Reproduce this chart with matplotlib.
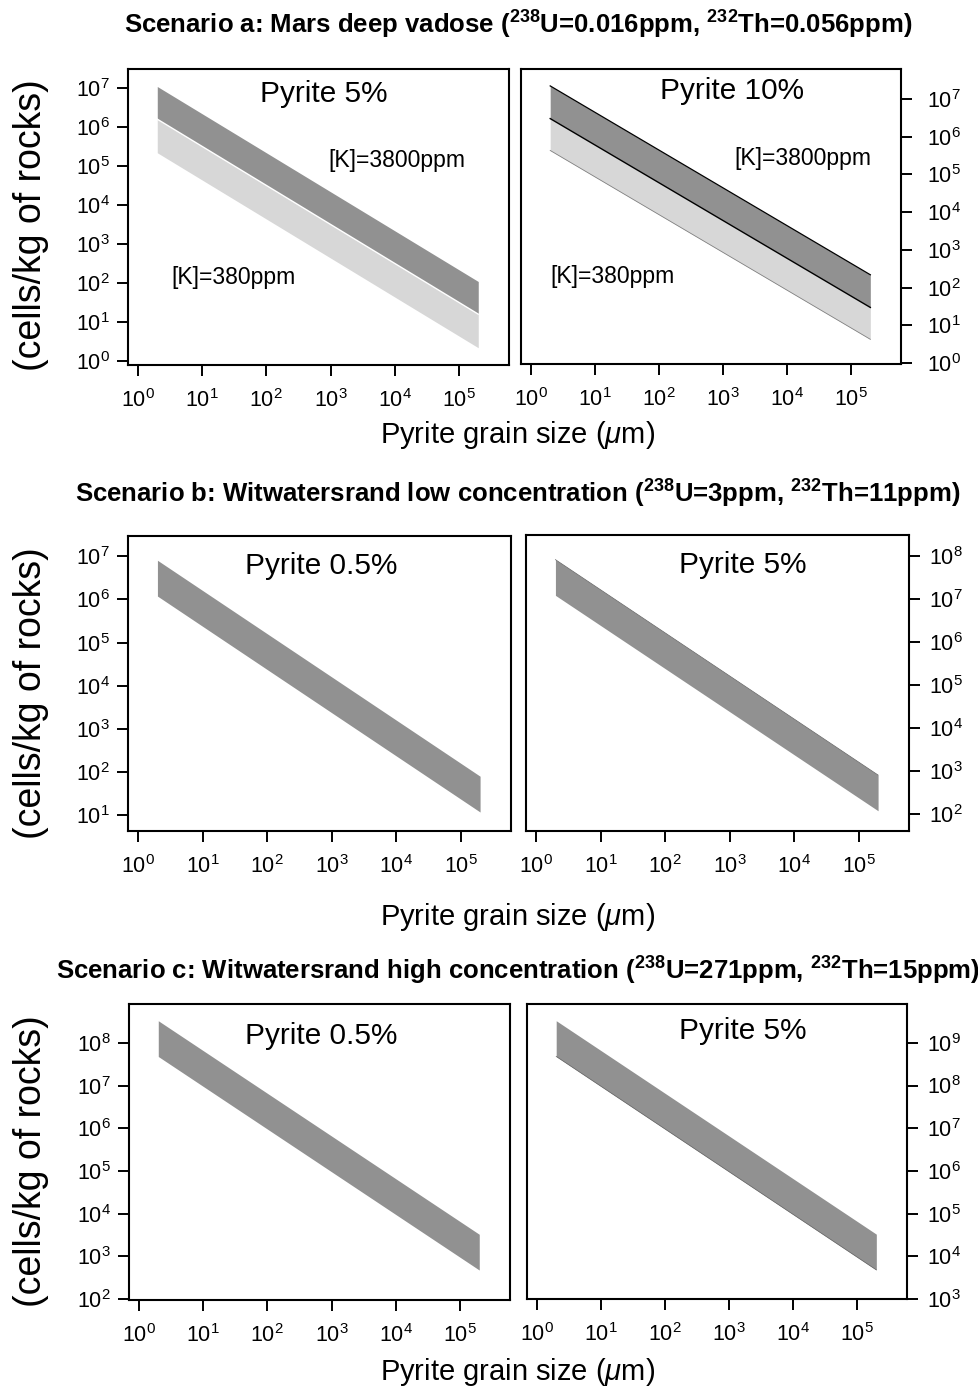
import matplotlib
matplotlib.use('Agg')
import matplotlib.pyplot as plt
from matplotlib.ticker import FixedLocator, LogFormatterMathtext, NullLocator

plt.rcParams['font.family'] = ['Liberation Sans', 'DejaVu Sans']
plt.rcParams['mathtext.fontset'] = 'custom'
plt.rcParams['mathtext.rm'] = 'Liberation Sans'
plt.rcParams['mathtext.it'] = 'Liberation Sans:italic'
plt.rcParams['mathtext.bf'] = 'Liberation Sans:bold'

W, H = 979, 1386
fig = plt.figure(figsize=(W / 100, H / 100), dpi=100)

# ---------------- data ----------------
grain_size = [2, 2e5]  # µm

# Scenario a: Mars deep vadose
a5_k3800_upper = [1.1e7, 1.1e2]
a5_k3800_lower = [1.6e6, 1.6e1]
a5_k380_lower = [2.2e5, 2.2]
a10_k3800_upper = [2.2e7, 2.2e2]
a10_k3800_lower = [3.0e6, 3.0e1]
a10_k380_lower = [4.3e5, 4.3]

# Scenario b: Witwatersrand low concentration
b05_upper = [8.1e6, 8.1e1]
b05_lower = [1.2e6, 1.2e1]
b5_upper = [8.1e7, 8.1e2]
b5_lower = [1.2e7, 1.2e2]

# Scenario c: Witwatersrand high concentration
c05_upper = [3.3e8, 3.3e3]
c05_lower = [4.8e7, 4.8e2]
c5_upper = [3.3e9, 3.3e4]
c5_lower = [4.8e8, 4.8e3]

x_ticks = [1, 10, 100, 1e3, 1e4, 1e5]

titles = [
    r'Scenario a: Mars deep vadose ($^{\mathbf{238}}$U=0.016ppm, $^{\mathbf{232}}$Th=0.056ppm)',
    r'Scenario b: Witwatersrand low concentration ($^{\mathbf{238}}$U=3ppm, $^{\mathbf{232}}$Th=11ppm)',
    r'Scenario c: Witwatersrand high concentration ($^{\mathbf{238}}$U=271ppm, $^{\mathbf{232}}$Th=15ppm)',
]
panel_labels = ['Pyrite 5%', 'Pyrite 10%', 'Pyrite 0.5%', 'Pyrite 5%', 'Pyrite 0.5%', 'Pyrite 5%']
k_labels = ['[K]=3800ppm', '[K]=380ppm']
xlabel = r'Pyrite grain size ($\mu$m)'
ylabel = '(cells/kg of rocks)'

DARK = '#919191'
LIGHT = '#d7d7d7'


def fx(px):
    return px / W


def fy(py):
    return 1 - py / H


def make_ax(l, t, r, b, xlim, ylim, yticks, right=False, ypad=5):
    ax = fig.add_axes([fx(l), fy(b), (r - l) / W, (b - t) / H])
    ax.set_xscale('log')
    ax.set_yscale('log')
    ax.set_xlim(*xlim)
    ax.set_ylim(*ylim)
    ax.xaxis.set_major_locator(FixedLocator(x_ticks))
    ax.xaxis.set_minor_locator(NullLocator())
    ax.yaxis.set_major_locator(FixedLocator(yticks))
    ax.yaxis.set_minor_locator(NullLocator())
    ax.xaxis.set_major_formatter(LogFormatterMathtext())
    ax.yaxis.set_major_formatter(LogFormatterMathtext())
    for s in ax.spines.values():
        s.set_linewidth(1.5)
    ax.tick_params(axis='both', which='major', direction='out', length=8,
                   width=1.4, labelsize=15.5, colors='black')
    ax.tick_params(axis='x', pad=9)
    ax.tick_params(axis='y', pad=ypad)
    if right:
        ax.yaxis.tick_right()
    return ax


xl = (10 ** -0.155, 10 ** 5.78)

# --- Row a ---
ax = make_ax(128, 69, 509, 365, xl, (10 ** -0.10, 10 ** 7.49), [10 ** k for k in range(0, 8)])
ax.fill_between(grain_size, a5_k3800_lower, a5_k3800_upper, color=DARK, lw=0)
ax.fill_between(grain_size, a5_k380_lower, a5_k3800_lower, color=LIGHT, lw=0)
ax.plot(grain_size, a5_k3800_lower, color='white', lw=1.0)

ax = make_ax(521, 69, 901, 364, xl, (10 ** -0.02, 10 ** 7.79), [10 ** k for k in range(0, 8)],
             right=True, ypad=11)
ax.fill_between(grain_size, a10_k3800_lower, a10_k3800_upper, color=DARK, lw=0)
ax.fill_between(grain_size, a10_k380_lower, a10_k3800_lower, color=LIGHT, lw=0)
ax.plot(grain_size, a10_k3800_upper, color='black', lw=0.9)
ax.plot(grain_size, a10_k3800_lower, color='black', lw=1.0)
ax.plot(grain_size, a10_k380_lower, color='#808080', lw=0.6)

# --- Row b ---
ax = make_ax(128, 536, 511, 831, xl, (10 ** 0.64, 10 ** 7.47), [10 ** k for k in range(1, 8)])
ax.fill_between(grain_size, b05_lower, b05_upper, color=DARK, lw=0)

ax = make_ax(526, 535, 909, 831, xl, (10 ** 1.61, 10 ** 8.48), [10 ** k for k in range(2, 9)],
             right=True, ypad=6.5)
ax.fill_between(grain_size, b5_lower, b5_upper, color=DARK, lw=0)
ax.plot(grain_size, b5_upper, color='#606060', lw=0.5)

# --- Row c ---
ax = make_ax(129, 1004, 510, 1300, xl, (10 ** 1.98, 10 ** 8.91), [10 ** k for k in range(2, 9)])
ax.fill_between(grain_size, c05_lower, c05_upper, color=DARK, lw=0)

ax = make_ax(527, 1004, 907, 1299, xl, (10 ** 3.0, 10 ** 9.91), [10 ** k for k in range(3, 10)],
             right=True, ypad=6.5)
ax.fill_between(grain_size, c5_lower, c5_upper, color=DARK, lw=0)
ax.plot(grain_size, c5_lower, color='#606060', lw=0.5)

# --- panel texts ---
panel_pos = [(323.5, 101.7), (732, 99.3), (321, 574), (742.5, 573.3), (321, 1044), (742.5, 1039.3)]
for lab, (px, py) in zip(panel_labels, panel_pos):
    fig.text(fx(px), fy(py), lab, ha='center', va='baseline', fontsize=21.4)

k_pos = [(328, 166.7, 0), (171, 284, 1), (734, 165, 0), (550, 283, 1)]
for px, py, i in k_pos:
    fig.text(fx(px), fy(py), k_labels[i], ha='left', va='baseline', fontsize=16.6)

# --- titles, axis labels ---
title_y = [33.3, 502.3, 980]
for t, py in zip(titles, title_y):
    fig.text(fx(518), fy(py), t, ha='center', va='baseline', fontsize=18.5, fontweight='bold')

xlab_y = [443, 925, 1380]
for py in xlab_y:
    fig.text(fx(518), fy(py), xlabel, ha='center', va='baseline', fontsize=21)

ylab_y = [225, 693.5, 1161]
for py in ylab_y:
    fig.text(fx(31), fy(py), ylabel, ha='center', va='center', rotation=90, fontsize=27)

fig.savefig('out.png', dpi=100)
